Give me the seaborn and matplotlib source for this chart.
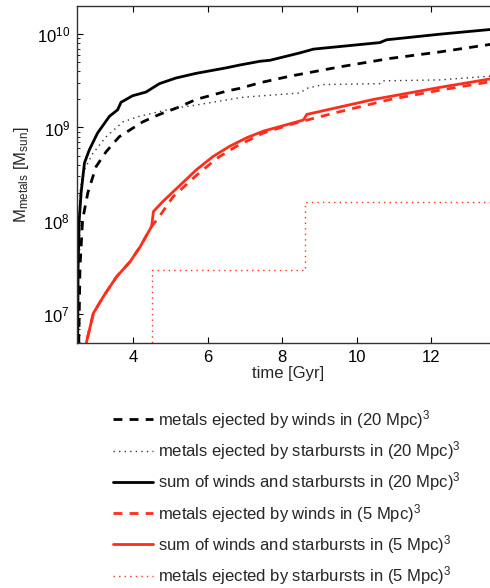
import numpy as np
import pandas as pd
import matplotlib
matplotlib.use("Agg")
import matplotlib.pyplot as plt
import seaborn as sns

sns.set_style("ticks")
plt.rcParams['font.family'] = ['Liberation Sans', 'DejaVu Sans']
plt.rcParams['mathtext.fontset'] = 'custom'
plt.rcParams['mathtext.rm'] = 'Liberation Sans'
plt.rcParams['mathtext.it'] = 'Liberation Sans:italic'
plt.rcParams['mathtext.bf'] = 'Liberation Sans:bold'

# ---- data (time in Gyr, log10 of metal mass in M_sun) ----
t_sum20 = [2.51, 2.53, 2.56, 2.61, 2.70, 2.83, 3.05, 3.37, 3.59, 3.68, 3.99, 4.35, 4.71,
           5.15, 5.69, 6.51, 6.87, 7.41, 7.67, 8.48, 8.84, 10.62, 10.80, 12.23, 13.57, 13.9]
lg_sum20 = [6.0, 7.5, 8.01, 8.30, 8.62, 8.76, 8.94, 9.12, 9.19, 9.27, 9.34, 9.38, 9.47,
            9.53, 9.58, 9.64, 9.67, 9.71, 9.72, 9.80, 9.84, 9.91, 9.94, 10.0, 10.05, 10.06]

t_wind20 = [2.52, 2.58, 2.65, 2.79, 3.01, 3.28, 3.63, 4.26, 4.71, 5.24, 5.69, 6.51, 6.87,
            7.41, 8.21, 9.55, 10.89, 12.23, 13.57, 13.9]
lg_wind20 = [6.0, 7.5, 8.01, 8.30, 8.58, 8.74, 8.90, 9.06, 9.14, 9.22, 9.30, 9.39, 9.42,
             9.48, 9.55, 9.65, 9.74, 9.81, 9.89, 9.91]

t_sb20 = [2.51, 2.54, 2.58, 2.65, 2.92, 3.28, 3.73, 4.17, 4.71, 5.15, 5.69, 6.87, 7.14,
          8.48, 8.66, 9.10, 10.62, 10.71, 12.23, 13.57, 13.9]
lg_sb20 = [6.0, 7.8, 8.30, 8.51, 8.72, 8.90, 9.06, 9.12, 9.17, 9.21, 9.24, 9.32, 9.33,
           9.37, 9.42, 9.46, 9.47, 9.50, 9.51, 9.55, 9.56]

t_wind5 = [2.65, 2.76, 2.94, 3.21, 3.56, 3.92, 4.19, 4.50, 4.68, 5.08, 5.71, 6.25, 6.78,
           7.49, 8.21, 8.57, 9.55, 10.89, 12.23, 13.57, 13.9]
lg_wind5 = [6.4, 6.71, 7.01, 7.19, 7.40, 7.56, 7.72, 7.94, 8.03, 8.26, 8.49, 8.67, 8.80,
            8.94, 9.03, 9.07, 9.17, 9.30, 9.40, 9.49, 9.51]

t_sum5 = [2.65, 2.76, 2.94, 3.21, 3.56, 3.92, 4.19, 4.50, 4.55, 4.81, 5.26, 5.71, 6.15,
          6.60, 7.05, 7.49, 7.94, 8.21, 8.57, 8.66, 10.44, 12.23, 13.57, 13.9]
lg_sum5 = [6.4, 6.71, 7.01, 7.19, 7.40, 7.56, 7.72, 7.94, 8.10, 8.21, 8.38, 8.55, 8.69,
           8.80, 8.89, 8.96, 9.01, 9.04, 9.08, 9.14, 9.30, 9.43, 9.52, 9.54]

t_sb5 = [2.50, 4.50, 8.61, 13.9]
m_sb5 = [1e5, 3.0e7, 1.6e8, 1.6e8]

labels = [
    r'metals ejected by winds in (20 Mpc)$^3$',
    r'metals ejected by starbursts in (20 Mpc)$^3$',
    r'sum of winds and starbursts in (20 Mpc)$^3$',
    r'metals ejected by winds in (5 Mpc)$^3$',
    r'sum of winds and starbursts in (5 Mpc)$^3$',
    r'metals ejected by starbursts in (5 Mpc)$^3$',
]

RED = '#ff2d1c'
FS = 12
W, H = 490, 588
fig = plt.figure(figsize=(W / 100, H / 100), dpi=100)
ax = fig.add_axes([77 / W, 1 - 343 / H, (500 - 77) / W, (343 - 5.5) / H])

def pw(t, lg):
    return pd.DataFrame({'t': t, 'm': 10 ** np.asarray(lg)})

sns.lineplot(data=pw(t_wind20, lg_wind20), x='t', y='m', ax=ax, color='black',
             lw=2.0, label=labels[0], linestyle=(0, (3.2, 2.6)))
sns.lineplot(data=pw(t_sb20, lg_sb20), x='t', y='m', ax=ax, color='#333333',
             lw=1.0, label=labels[1], linestyle=(0, (1, 3)))
sns.lineplot(data=pw(t_sum20, lg_sum20), x='t', y='m', ax=ax, color='black',
             lw=2.0, label=labels[2])
sns.lineplot(data=pw(t_wind5, lg_wind5), x='t', y='m', ax=ax, color=RED,
             lw=2.0, label=labels[3], linestyle=(0, (3.2, 2.6)))
sns.lineplot(data=pw(t_sum5, lg_sum5), x='t', y='m', ax=ax, color=RED,
             lw=2.0, label=labels[4])
sns.lineplot(data=pd.DataFrame({'t': t_sb5, 'm': m_sb5}), x='t', y='m', ax=ax,
             color=RED, lw=1.0, label=labels[5], linestyle=(0, (1, 3)),
             drawstyle='steps-post')

ax.set_yscale('log')
ax.set_xlim(2.5, 2.5 + (500 - 77) / 37.3)
ax.set_ylim(4.9e6, 2.03e10)
ax.set_xticks([4, 6, 8, 10, 12])
ax.set_yticks([1e7, 1e8, 1e9, 1e10])
ax.tick_params(axis='both', which='both', direction='in', top=True, right=True,
               labelsize=FS, colors='black', pad=5)
ax.tick_params(which='major', length=4, width=0.8)
ax.tick_params(which='minor', length=2, width=0.6)
for s in ax.spines.values():
    s.set_linewidth(1.0)
    s.set_color('#333333')
ax.set_xlabel('time [Gyr]', fontsize=FS, labelpad=1)
ax.set_ylabel(r'M$_{\rm metals}$ [M$_{\rm sun}$]', fontsize=FS, labelpad=4)

h, l = ax.get_legend_handles_labels()
ax.legend_.remove()
fig.legend(h, l, loc='upper left', bbox_to_anchor=(113 / W, 1 - 408 / H),
           frameon=False, fontsize=FS, handlelength=2.4, handletextpad=0.3,
           labelspacing=0.5, borderpad=0, borderaxespad=0)

fig.savefig('out.png', dpi=100)
